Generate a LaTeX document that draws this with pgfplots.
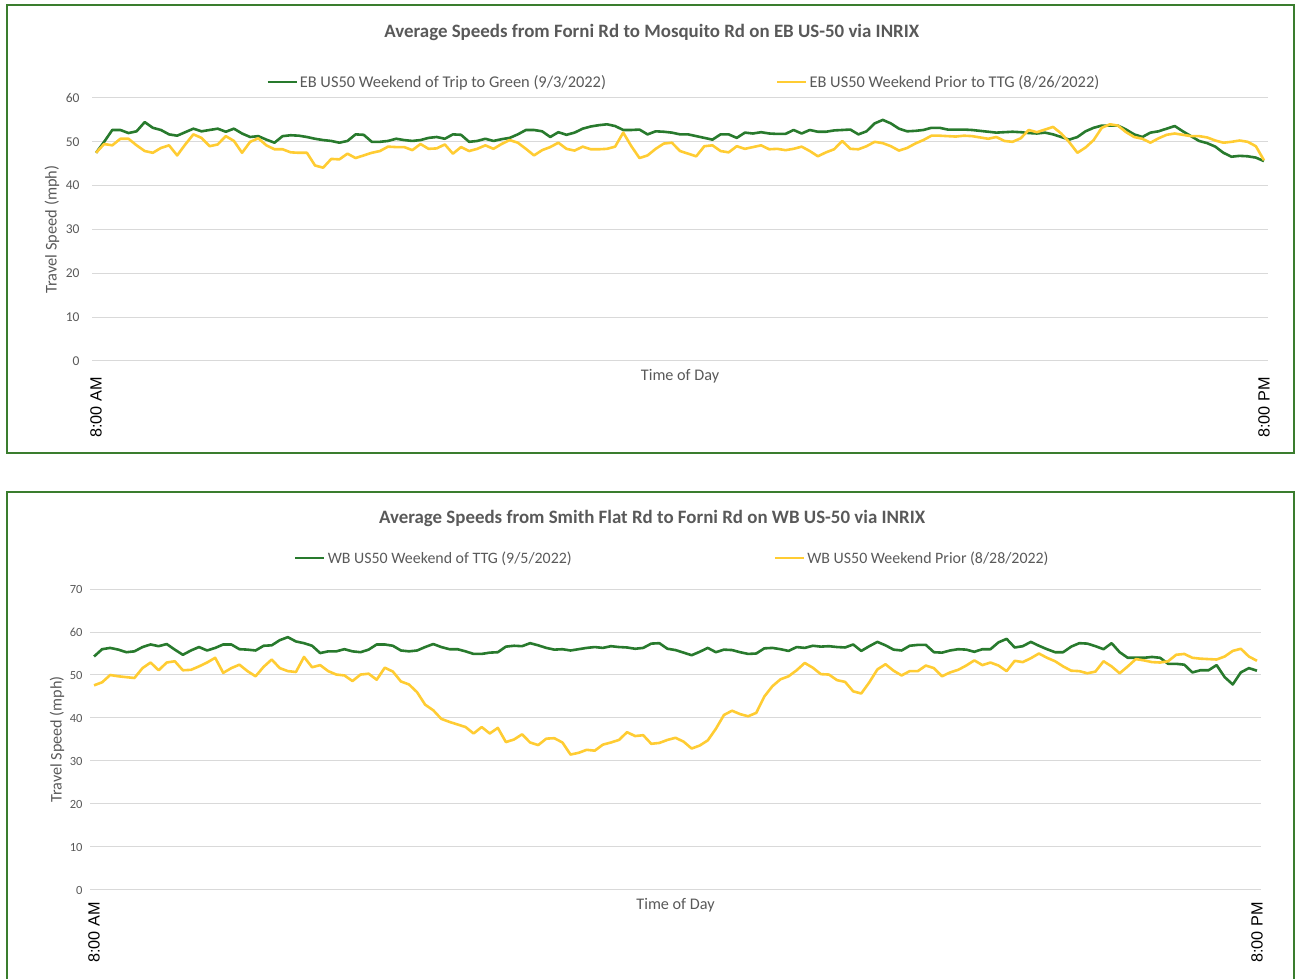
\documentclass[border=0pt]{standalone}
\usepackage{pgfplots}
\pgfplotsset{compat=1.18}
\usepackage{pgfplotstable}
\usepackage{fontspec}
\setmainfont{Carlito}
\newfontfamily\arialfont{Liberation Sans}
\definecolor{lgreen}{RGB}{40,122,45}
\definecolor{lyellow}{RGB}{255,204,51}
\definecolor{boxgreen}{RGB}{58,125,46}
\definecolor{txtgray}{RGB}{89,89,89}
\definecolor{gridgray}{RGB}{217,217,217}

\pgfplotstableread{
t g y
0 47.5 47.5
1 50.0 49.5
2 52.7 49.2
3 52.7 50.7
4 52.0 50.7
5 52.4 49.2
6 54.5 47.9
7 53.2 47.5
8 52.7 48.6
9 51.7 49.2
10 51.4 46.9
11 52.2 49.4
12 53.0 51.7
13 52.4 50.9
14 52.7 49.0
15 53.0 49.4
16 52.3 51.3
17 53.0 50.2
18 51.9 47.5
19 51.1 50.0
20 51.3 50.8
21 50.5 49.2
22 49.8 48.3
23 51.3 48.3
24 51.5 47.6
25 51.4 47.5
26 51.1 47.5
27 50.7 44.6
28 50.4 44.1
29 50.2 46.1
30 49.8 46.0
31 50.2 47.3
32 51.7 46.3
33 51.6 46.9
34 50.0 47.5
35 50.0 47.9
36 50.2 48.9
37 50.7 48.8
38 50.4 48.8
39 50.2 48.1
40 50.4 49.5
41 50.9 48.4
42 51.1 48.5
43 50.7 49.4
44 51.7 47.3
45 51.6 48.8
46 50.0 47.9
47 50.2 48.4
48 50.7 49.2
49 50.2 48.4
50 50.6 49.5
51 50.9 50.4
52 51.7 49.8
53 52.7 48.4
54 52.7 46.9
55 52.4 48.1
56 51.1 48.8
57 52.2 49.8
58 51.6 48.4
59 52.1 48.0
60 53.0 48.9
61 53.5 48.3
62 53.8 48.3
63 54.0 48.4
64 53.6 48.9
65 52.7 52.1
66 52.7 49.0
67 52.8 46.3
68 51.7 46.9
69 52.4 48.4
70 52.3 49.6
71 52.1 49.8
72 51.7 47.9
73 51.7 47.3
74 51.3 46.7
75 50.9 49.0
76 50.5 49.2
77 51.7 47.9
78 51.7 47.6
79 50.9 49.0
80 52.1 48.4
81 51.9 48.8
82 52.2 49.2
83 51.9 48.3
84 51.8 48.4
85 51.8 48.1
86 52.7 48.4
87 51.9 48.9
88 52.7 47.9
89 52.3 46.7
90 52.3 47.6
91 52.6 48.3
92 52.7 50.2
93 52.8 48.4
94 51.7 48.3
95 52.4 49.0
96 54.2 50.0
97 55.0 49.7
98 54.2 49.0
99 53.0 48.0
100 52.4 48.6
101 52.5 49.6
102 52.7 50.4
103 53.2 51.4
104 53.2 51.4
105 52.8 51.3
106 52.8 51.2
107 52.8 51.4
108 52.7 51.3
109 52.5 51.0
110 52.3 50.7
111 52.1 51.1
112 52.2 50.2
113 52.3 50.0
114 52.2 50.8
115 52.0 52.7
116 51.9 52.2
117 52.1 52.8
118 51.7 53.4
119 51.1 51.9
120 50.5 49.9
121 51.1 47.5
122 52.4 48.7
123 53.2 50.4
124 53.7 53.2
125 53.7 54.0
126 53.7 53.7
127 52.8 52.2
128 51.7 51.1
129 51.1 50.7
130 52.1 49.8
131 52.4 50.8
132 53.0 51.6
133 53.6 51.9
134 52.4 51.6
135 51.3 51.3
136 50.2 51.3
137 49.7 51.0
138 48.9 50.3
139 47.5 49.8
140 46.6 50.0
141 46.8 50.3
142 46.7 50.0
143 46.4 49.0
144 45.6 45.8
}\topdata

\pgfplotstableread{
t g y
0 54.3 47.6
1 56.0 48.3
2 56.3 50.0
3 55.9 49.7
4 55.3 49.5
5 55.5 49.3
6 56.5 51.6
7 57.1 52.9
8 56.7 51.1
9 57.2 52.9
10 55.9 53.2
11 54.7 51.1
12 55.7 51.2
13 56.5 52.0
14 55.7 52.9
15 56.3 54.0
16 57.1 50.5
17 57.1 51.6
18 56.0 52.4
19 55.9 50.9
20 55.7 49.7
21 56.8 51.9
22 56.9 53.6
23 58.1 51.6
24 58.8 50.9
25 57.8 50.7
26 57.4 54.2
27 56.8 51.8
28 55.1 52.3
29 55.5 50.9
30 55.5 50.1
31 56.0 49.9
32 55.5 48.6
33 55.3 50.1
34 55.9 50.3
35 57.1 48.9
36 57.1 51.7
37 56.8 50.8
38 55.7 48.5
39 55.5 47.8
40 55.7 46.0
41 56.5 43.1
42 57.2 41.8
43 56.5 39.8
44 56.0 39.1
45 56.0 38.5
46 55.5 37.9
47 54.9 36.4
48 54.9 37.9
49 55.2 36.4
50 55.3 37.7
51 56.6 34.4
52 56.8 35.0
53 56.7 36.2
54 57.4 34.3
55 56.9 33.7
56 56.3 35.2
57 55.9 35.3
58 56.0 34.3
59 55.7 31.5
60 56.0 31.9
61 56.3 32.6
62 56.5 32.4
63 56.3 33.8
64 56.7 34.3
65 56.5 34.9
66 56.4 36.7
67 56.1 35.8
68 56.3 36.0
69 57.3 34.0
70 57.4 34.2
71 56.1 34.9
72 55.8 35.4
73 55.2 34.5
74 54.6 32.9
75 55.4 33.6
76 56.3 34.8
77 55.3 37.5
78 55.9 40.7
79 55.8 41.7
80 55.3 40.9
81 54.9 40.4
82 55.0 41.2
83 56.2 45.0
84 56.3 47.4
85 56.0 49.0
86 55.6 49.7
87 56.5 51.1
88 56.3 52.8
89 56.8 51.7
90 56.6 50.2
91 56.7 50.1
92 56.5 48.8
93 56.4 48.4
94 57.1 46.2
95 55.6 45.7
96 56.7 48.3
97 57.7 51.3
98 56.9 52.5
99 55.9 51.0
100 55.7 49.9
101 56.8 50.9
102 57.0 50.9
103 57.0 52.2
104 55.3 51.6
105 55.2 49.7
106 55.7 50.6
107 56.0 51.2
108 55.9 52.2
109 55.4 53.4
110 56.0 52.3
111 56.0 52.9
112 57.6 52.2
113 58.4 50.9
114 56.4 53.3
115 56.7 53.0
116 57.7 53.9
117 56.8 55.0
118 56.0 54.0
119 55.3 53.2
120 55.3 52.0
121 56.6 51.0
122 57.4 50.9
123 57.3 50.4
124 56.7 50.8
125 56.0 53.2
126 57.4 52.0
127 55.3 50.4
128 54.0 52.0
129 54.0 53.7
130 54.0 53.4
131 54.2 53.0
132 54.0 52.9
133 52.6 53.2
134 52.6 54.7
135 52.4 54.9
136 50.6 54.0
137 51.1 53.8
138 51.1 53.7
139 52.3 53.6
140 49.5 54.3
141 47.8 55.6
142 50.6 56.1
143 51.6 54.3
144 51.0 53.3
}\botdata

\pgfplotsset{
  speedaxis/.style={
    scale only axis,
    xmin=-0.5, xmax=144.5,
    axis line style={draw=none},
    major tick length=0pt,
    xtick={0,144},
    xticklabels={8:00 AM,8:00 PM},
    xticklabel style={rotate=90, anchor=east, font=\arialfont\fontsize{16.2}{16.2}\selectfont, text=black, inner sep=0pt},
    ymajorgrids,
    grid style={gridgray, line width=1pt},
    yticklabel style={text=txtgray},
    /pgf/number format/assume math mode=true,
    xlabel={Time of Day},
    ylabel={Travel Speed (mph)},
    label style={text=txtgray},
    legend columns=2,
    legend cell align=left,
    legend image code/.code={\draw[##1] (0pt,0pt) -- (29pt,0pt);},
    title style={font=\bfseries\fontsize{18.9}{19}\selectfont, text=txtgray, anchor=center, yshift=0pt},
    every axis plot/.append style={line width=2.6pt, line join=round, mark=none},
  }
}

\begin{document}
\begin{tikzpicture}[x=1pt,y=1pt]
\useasboundingbox (0,0) rectangle (1295,979);
\begin{scope}
\clip (0,0) rectangle (1295,979);
\draw[boxgreen, line width=2.2pt] (7,974) rectangle (1294,526);
\draw[boxgreen, line width=2.2pt] (7,-20) -- (7,487) -- (1294,487) -- (1294,-20);
\end{scope}

% ---------- top chart ----------
\begin{axis}[speedaxis,
  at={(92pt,618pt)}, anchor=south west,
  width=1176pt, height=263pt,
  ymin=0, ymax=60, ytick={0,10,...,60},
  yticklabel style={font=\fontsize{13.5}{14}\selectfont, xshift=-9pt},
  xticklabel shift=16pt,
  xlabel style={at={(axis description cs:0.5,-0.057)}, anchor=center, font=\fontsize{16.2}{17}\selectfont},
  ylabel style={at={(axis description cs:-0.034,0.5)}, anchor=center, rotate=0, font=\fontsize{16.4}{17}\selectfont},
  title={Average Speeds from Forni Rd to Mosquito Rd on EB US-50 via INRIX},
  title style={at={(axis description cs:0.476,1.2282)}},
  legend style={draw=none, fill=none, at={(axis description cs:0.148,1.0608)}, anchor=west,
    font=\fontsize{16.4}{17}\selectfont, text=txtgray, inner sep=0pt,
    /tikz/every even column/.append style={column sep=168pt}},
]
\addplot[lgreen] table[x=t, y=g] {\topdata};
\addlegendentry{EB US50 Weekend of Trip to Green (9/3/2022)}
\addplot[lyellow] table[x=t, y=y] {\topdata};
\addlegendentry{EB US50 Weekend Prior to TTG (8/26/2022)}
\end{axis}

% ---------- bottom chart ----------
\begin{axis}[speedaxis,
  at={(90pt,89pt)}, anchor=south west,
  width=1171pt, height=301pt,
  ymin=0, ymax=70, ytick={0,10,...,70},
  yticklabel style={font=\fontsize{12.5}{13}\selectfont, xshift=-4pt},
  xticklabel shift=12pt,
  xlabel style={at={(axis description cs:0.5,-0.0498)}, anchor=center, font=\fontsize{16.2}{17}\selectfont},
  ylabel style={at={(axis description cs:-0.0282,0.5)}, anchor=center, rotate=0, font=\fontsize{16.2}{17}\selectfont},
  title={Average Speeds from Smith Flat Rd to Forni Rd on WB US-50 via INRIX},
  title style={at={(axis description cs:0.48,1.2157)}},
  legend style={draw=none, fill=none, at={(axis description cs:0.1742,1.103)}, anchor=west,
    font=\fontsize{15.9}{17}\selectfont, text=txtgray, inner sep=0pt,
    /tikz/every even column/.append style={column sep=200pt}},
]
\addplot[lgreen] table[x=t, y=g] {\botdata};
\addlegendentry{WB US50 Weekend of TTG (9/5/2022)}
\addplot[lyellow] table[x=t, y=y] {\botdata};
\addlegendentry{WB US50 Weekend Prior (8/28/2022)}
\end{axis}
\end{tikzpicture}
\end{document}
